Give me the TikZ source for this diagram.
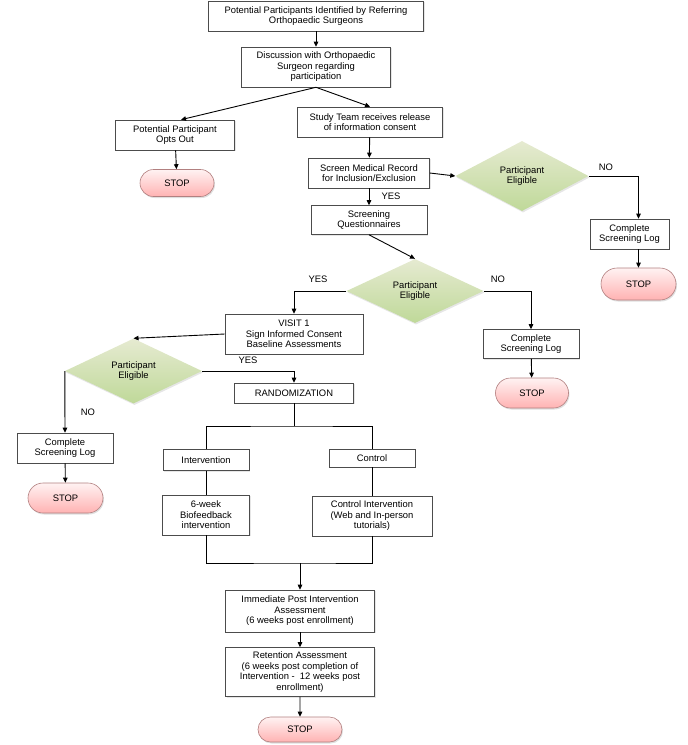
\documentclass[tikz,border=0pt]{standalone}
\usepackage{fontspec}
\setmainfont{Liberation Sans}
\usetikzlibrary{arrows.meta,shapes.geometric,shapes.misc,shadows}

\begin{document}
\begin{tikzpicture}[
        x=1pt, y=-1pt,
        every node/.style={black, font=\fontsize{9.4}{10.5}\selectfont},
        box/.style={draw=black!70, line width=0.6pt, fill=white, align=center, inner sep=1pt,
            drop shadow={opacity=0.2, shadow xshift=1pt, shadow yshift=-1pt}},
        stopbox/.style={rounded rectangle, draw=red!40!black!50, line width=0.6pt,
            top color=red!5, bottom color=red!30, inner sep=1pt,
            drop shadow={opacity=0.25, shadow xshift=1pt, shadow yshift=-1.5pt}},
        elig/.style={diamond, draw=none, top color=green!10!olive!18, bottom color=green!25!olive!40,
            align=center, inner sep=0pt,
            drop shadow={opacity=0.2, shadow xshift=1pt, shadow yshift=-1.5pt}},
        link/.style={line width=0.9pt},
        flow/.style={link, -{Triangle[length=5pt,width=4.5pt]}}
    ]
    \useasboundingbox (0,0) rectangle (688,745);

    % top part
    \node[box, minimum width=215pt, minimum height=30pt] (ident) at (316,16)
        {Potential Participants Identified by Referring\\Orthopaedic Surgeons};
    \node[box, minimum width=149pt, minimum height=40pt] (discuss) at (316,67)
        {Discussion with Orthopaedic\\Surgeon regarding\\participation};
    \node[box, minimum width=119pt, minimum height=30pt] (optout) at (175,135)
        {Potential Participant\\Opts Out};
    \node[stopbox, minimum width=76pt, minimum height=27pt] (stopa) at (177,183) {STOP};
    \node[box, minimum width=145pt, minimum height=30pt] (team) at (370,122)
        {Study Team receives release\\of information consent};
    \node[box, minimum width=121pt, minimum height=30pt] (screen) at (369,173)
        {Screen Medical Record\\for Inclusion/Exclusion};
    \node[elig, minimum width=133pt, minimum height=70pt] (eliga) at (522,176)
        {Participant\\Eligible};
    \node[box, minimum width=79pt, minimum height=30pt] (loga) at (629.5,234)
        {Complete\\Screening Log};
    \node[stopbox, minimum width=77pt, minimum height=32pt] (stopb) at (638.5,284) {STOP};
    \node[box, minimum width=116pt, minimum height=29pt] (quest) at (369,220)
        {Screening\\Questionnaires};

    % second check
    \node[elig, minimum width=137pt, minimum height=64pt] (eligb) at (415,291)
        {Participant\\Eligible};
    \node[box, minimum width=96pt, minimum height=29pt] (logb) at (531,344)
        {Complete\\Screening Log};
    \node[stopbox, minimum width=75pt, minimum height=30pt] (stopc) at (532,393) {STOP};
    \node[box, minimum width=138pt, minimum height=40pt] (visit) at (294,334)
        {VISIT 1\\Sign Informed Consent\\Baseline Assessments};

    % third check
    \node[elig, minimum width=137pt, minimum height=65pt] (eligc) at (133.5,371)
        {Participant\\Eligible};
    \node[box, minimum width=96pt, minimum height=30pt] (logc) at (65,448)
        {Complete\\Screening Log};
    \node[stopbox, minimum width=77pt, minimum height=30pt] (stopd) at (65.5,498) {STOP};
    \node[box, minimum width=119pt, minimum height=20pt] (rand) at (294,393) {RANDOMIZATION};

    % arms
    \node[box, minimum width=86pt, minimum height=21pt] (interv) at (206,460) {Intervention};
    \node[box, minimum width=86pt, minimum height=18pt] (ctrl) at (372,458) {Control};
    \node[box, minimum width=87pt, minimum height=40pt] (biofb) at (206,515)
        {6-week\\Biofeedback\\intervention};
    \node[box, minimum width=120pt, minimum height=40pt] (ctrlint) at (372,516)
        {Control Intervention\\(Web and In-person\\tutorials)};
    \node[box, minimum width=149pt, minimum height=42pt] (post) at (300,611)
        {Immediate Post Intervention\\Assessment\\(6 weeks post enrollment)};
    \node[box, minimum width=149pt, minimum height=49pt] (retain) at (300,672)
        {Retention Assessment\\(6 weeks post completion of\\Intervention -\ \ 12 weeks post\\enrollment)};
    \node[stopbox, minimum width=86pt, minimum height=25pt] (stope) at (300,729.5) {STOP};

    \coordinate (split) at (294,426);
    \coordinate (join) at (300,563);

    % labels
    \node (noa) at (606,167) {NO};
    \node (yesa) at (391,196) {YES};
    \node (yesb) at (318,279) {YES};
    \node (nob) at (498,279) {NO};
    \node (yesc) at (248,360) {YES};
    \node (noc) at (88,412) {NO};

    % connectors
    \draw[flow] (ident) -- (discuss);
    \draw[flow] (discuss.south) -- ([xshift=6pt]optout.north);
    \draw[flow] (discuss.south) -- (team.north);
    \draw[flow] (optout) -- (stopa);
    \draw[flow] (team) -- (screen);
    \draw[flow] (screen.east) -- (eliga.west);
    \draw[flow] (eliga.east) -| (stopb.north |- loga.north);
    \draw[flow] (stopb.north |- loga.south) -- (stopb.north);
    \draw[flow] (screen) -- (quest);
    \draw[flow] (quest.south) -- (eligb.north);
    \draw[flow] (eligb.west) -| (visit.north);
    \draw[flow] (eligb.east) -| (logb.north);
    \draw[flow] (logb) -- (stopc);
    \draw[flow] (visit.west) -- (eligc.north);
    \draw[flow] (eligc.east) -| (rand.north);
    \draw[flow] (eligc.west) -- (logc.north);
    \draw[flow] (logc) -- (stopd);
    \draw[link] (rand.south) -- (split);
    \draw[link] (interv.north) |- (split) -| (ctrl.north);
    \draw[link] (interv) -- (biofb);
    \draw[link] (ctrl) -- (ctrlint);
    \draw[link] (biofb.south) |- (join) -| (ctrlint.south);
    \draw[flow] (join) -- (post);
    \draw[flow] (post) -- (retain);
    \draw[flow] (retain) -- (stope);
\end{tikzpicture}
\end{document}
